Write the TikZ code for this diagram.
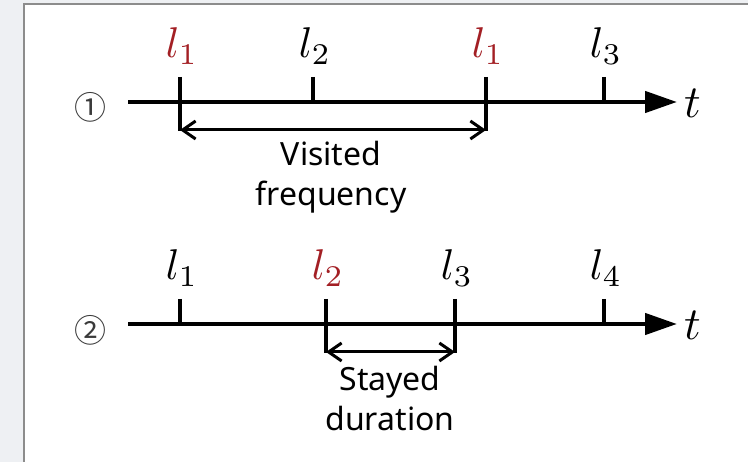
\documentclass[tikz,border=0pt]{standalone}
\usepackage{graphicx}
\usepackage{fontspec}
\setsansfont{Noto Sans}
\newfontfamily\circfont{Noto Sans CJK SC}
\usetikzlibrary{arrows.meta}
\definecolor{pagegray}{HTML}{EEF0F3}
\definecolor{framegray}{HTML}{8C8C8C}
\definecolor{lred}{HTML}{A31F24}
\definecolor{numgray}{HTML}{3A3A3A}
\newcommand{\biglab}[1]{\scalebox{4.3}{$#1$}}
\newcommand{\bigt}{\scalebox{4.6}{$t$}}
\tikzset{
  axis/.style={line width=4.5pt, -{Triangle[length=32pt,width=21pt]}},
  tick/.style={line width=4.5pt},
  span/.style={line width=3pt, {Straight Barb[length=13pt,width=18pt]}-{Straight Barb[length=13pt,width=18pt]}},
  lab/.style={anchor=base, inner sep=0pt},
  tlab/.style={anchor=base west, inner sep=0pt},
  num/.style={inner sep=0pt, text=numgray, font=\circfont\fontsize{32}{34}\selectfont},
  caption/.style={align=center, inner sep=0pt, font=\sffamily\fontsize{32}{40}\selectfont}
}
\begin{document}
\begin{tikzpicture}[x=1pt, y=-1pt]
  \useasboundingbox (0,0) rectangle (748,462);
  % page background and framed panel
  \fill[pagegray] (0,0) rectangle (748,462);
  \fill[white] (24,4) rectangle (748,462);
  \draw[framegray, line width=2pt] (24,462) -- (24,4) -- (748,4);

  % ---- row 1: visited frequency ----
  \node[num] (n1) at (90,107) {①};
  \coordinate (a1s) at (128,102);
  \coordinate (a1e) at (677,102);
  \draw[axis] (a1s) -- (a1e);
  \node[tlab] (t1) at (684,118) {\bigt};
  \foreach \x/\name in {180/p1, 313/p2, 486/p3, 604/p4} {
    \coordinate (\name top) at (\x,77);
    \coordinate (\name) at (\x,102);
  }
  \coordinate (p1low) at (180,131.5);
  \coordinate (p3low) at (486,131.5);
  \draw[tick] (p1top) -- (p1low);
  \draw[tick] (p2top) -- (p2);
  \draw[tick] (p3top) -- (p3low);
  \draw[tick] (p4top) -- (p4);
  \node[lab, text=lred] (l11) at (182,58) {\biglab{l_1}};
  \node[lab] (l12) at (315,58) {\biglab{l_2}};
  \node[lab, text=lred] (l13) at (488,58) {\biglab{l_1}};
  \node[lab] (l14) at (606,58) {\biglab{l_3}};
  \coordinate (f1) at (180,130);
  \coordinate (f2) at (486,130);
  \draw[span] (f1) -- (f2);
  \node[caption] (cap1) at (331,177) {Visited\\frequency};

  % ---- row 2: stayed duration ----
  \node[num] (n2) at (90,330) {②};
  \coordinate (a2s) at (128,324);
  \coordinate (a2e) at (677,324);
  \draw[axis] (a2s) -- (a2e);
  \node[tlab] (t2) at (684,340) {\bigt};
  \foreach \x/\name in {180/q1, 326/q2, 455/q3, 604/q4} {
    \coordinate (\name top) at (\x,299);
    \coordinate (\name) at (\x,324);
  }
  \coordinate (q2low) at (326,353.5);
  \coordinate (q3low) at (455,353.5);
  \draw[tick] (q1top) -- (q1);
  \draw[tick] (q2top) -- (q2low);
  \draw[tick] (q3top) -- (q3low);
  \draw[tick] (q4top) -- (q4);
  \node[lab] (l21) at (182,280) {\biglab{l_1}};
  \node[lab, text=lred] (l22) at (328,280) {\biglab{l_2}};
  \node[lab] (l23) at (457,280) {\biglab{l_3}};
  \node[lab] (l24) at (606,280) {\biglab{l_4}};
  \coordinate (d1) at (326,352);
  \coordinate (d2) at (455,352);
  \draw[span] (d1) -- (d2);
  \node[caption] (cap2) at (390,399) {Stayed\\duration};
\end{tikzpicture}
\end{document}
